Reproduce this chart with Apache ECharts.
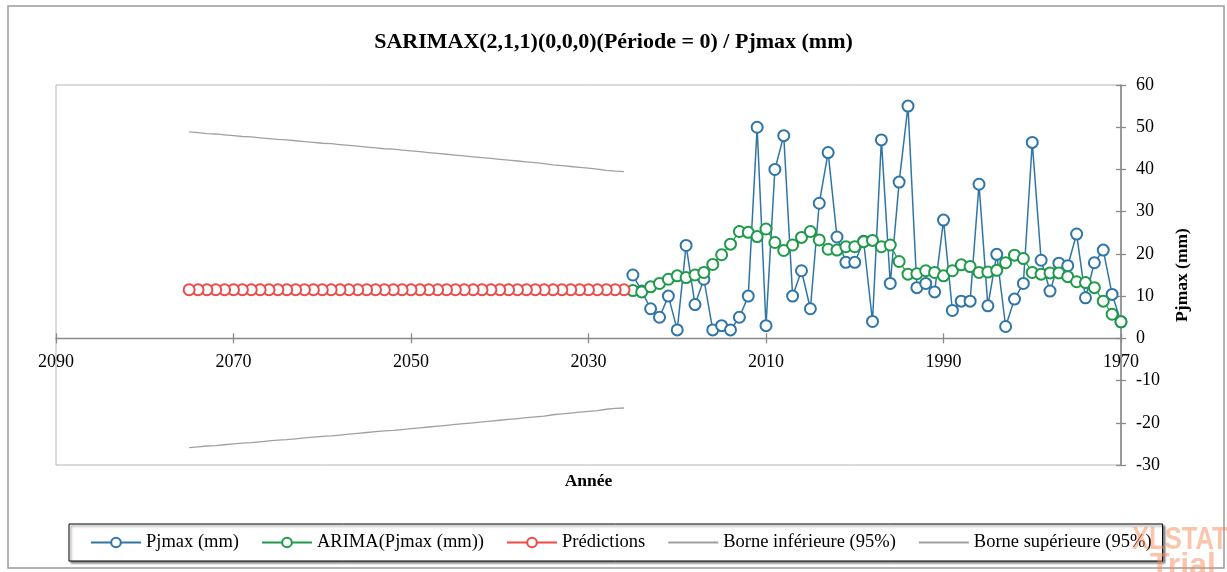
<!DOCTYPE html>
<html>
<head>
<meta charset="utf-8">
<script src="https://cdn.jsdelivr.net/npm/echarts@6/dist/echarts.min.js"></script>
<style>
html,body{margin:0;padding:0;background:#fff;}
#chart{width:1227px;height:572px;}
</style>
</head>
<body>
<div id="chart"></div>
<script>
// ---- Data ----
const titleText = 'SARIMAX(2,1,1)(0,0,0)(Période = 0) / Pjmax (mm)';
const seriesNames = ['Pjmax (mm)', 'ARIMA(Pjmax (mm))', 'Prédictions', 'Borne inférieure (95%)', 'Borne supérieure (95%)'];

// Observed years (descending 2025 -> 1970)
const obsYears = [2025,2024,2023,2022,2021,2020,2019,2018,2017,2016,2015,2014,2013,2012,2011,2010,2009,2008,2007,2006,
  2005,2004,2003,2002,2001,2000,1999,1998,1997,1996,1995,1994,1993,1992,1991,1990,1989,1988,1987,1986,
  1985,1984,1983,1982,1981,1980,1979,1978,1977,1976,1975,1974,1973,1972,1971,1970];

const pjmax = [15,11.2,7,5,10,2,22,8,14,2,3,2,5,10,50,3,40,48,10,16,
  7,32,44,24,18,18,23,4,47,13,37,55,12,13,11,28,6.6,8.8,8.8,36.5,
  7.7,19.9,2.8,9.3,13,46.4,18.5,11.2,17.8,17.2,24.7,9.6,17.9,20.9,10.4,3.9];

const arima = [11.3,11.0,12.2,13.0,14.0,14.8,14.4,15.0,15.6,17.5,19.8,22.3,25.3,25.1,24.1,25.9,22.7,20.8,22.1,23.9,
  25.3,23.3,21.1,20.9,21.7,21.7,22.9,23.2,21.7,22.1,18.2,15.2,15.3,16.0,15.6,14.8,16.0,17.4,17.0,15.6,
  15.7,16.1,17.9,19.7,18.9,15.6,15.2,15.5,15.5,14.6,13.4,13.2,12.0,8.8,5.7,3.9];

// Forecast years (2026 -> 2075)
const predYears = [2026,2027,2028,2029,2030,2031,2032,2033,2034,2035,2036,2037,2038,2039,2040,2041,2042,2043,2044,2045,
  2046,2047,2048,2049,2050,2051,2052,2053,2054,2055,2056,2057,2058,2059,2060,2061,2062,2063,2064,2065,
  2066,2067,2068,2069,2070,2071,2072,2073,2074,2075];

const predictions = [11.5,11.5,11.5,11.5,11.5,11.5,11.5,11.5,11.5,11.5,11.5,11.5,11.5,11.5,11.5,11.5,11.5,11.5,11.5,11.5,
  11.5,11.5,11.5,11.5,11.5,11.5,11.5,11.5,11.5,11.5,11.5,11.5,11.5,11.5,11.5,11.5,11.5,11.5,11.5,11.5,
  11.5,11.5,11.5,11.5,11.5,11.5,11.5,11.5,11.5,11.5];

const lowerBound = [-16.5,-16.6,-16.8,-17.1,-17.3,-17.5,-17.7,-17.9,-18.1,-18.4,-18.6,-18.8,-19.0,-19.2,-19.4,-19.6,-19.8,-20.0,-20.2,-20.4,
  -20.6,-20.8,-21.0,-21.2,-21.4,-21.6,-21.8,-21.9,-22.1,-22.3,-22.5,-22.7,-22.9,-23.1,-23.2,-23.4,-23.6,-23.8,-24.0,-24.1,
  -24.3,-24.5,-24.7,-24.8,-25.0,-25.2,-25.4,-25.5,-25.7,-25.9];

const upperBound = [39.5,39.6,39.8,40.1,40.3,40.5,40.7,40.9,41.1,41.4,41.6,41.8,42.0,42.2,42.4,42.6,42.8,43.0,43.2,43.4,
  43.6,43.8,44.0,44.2,44.4,44.6,44.8,44.9,45.1,45.3,45.5,45.7,45.9,46.1,46.2,46.4,46.6,46.8,47.0,47.1,
  47.3,47.5,47.7,47.8,48.0,48.2,48.4,48.5,48.7,48.9];

const xTicks = {min: 1970, max: 2090, interval: 20};
const yTicks = {min: -30, max: 60, interval: 10};

// ---- Build ----
const pairs = (xs, ys) => xs.map((x, i) => [x, ys[i]]);
const serif = 'Liberation Serif';
const axisGray = '#8a8a8a';
const plain = v => String(v);

const gridTop = 85, gridBottom = 107, chartH = 572;
const gridH = chartH - gridTop - gridBottom;
// x axis crosses the y axis at value 0: shift it up from the grid bottom by the height of the part below zero
const zeroShift = -gridH * (0 - yTicks.min) / (yTicks.max - yTicks.min);

const chart = echarts.init(document.getElementById('chart'), null, {renderer: 'canvas'});

const option = {
  animation: false,
  backgroundColor: '#fff',
  title: {
    text: titleText,
    left: 'center',
    top: 31,
    padding: 0,
    textStyle: {fontFamily: serif, fontSize: 22, fontWeight: 'bold', color: '#000'}
  },
  grid: {
    left: 56, right: 106, top: gridTop, bottom: gridBottom,
    containLabel: false, outerBoundsMode: 'none',
    show: true, borderColor: '#b4b4b4', borderWidth: 1, backgroundColor: 'transparent'
  },
  legend: {
    data: [
      {name: seriesNames[0]},
      {name: seriesNames[1]},
      {name: seriesNames[2]},
      {name: seriesNames[3], itemStyle: {opacity: 0}},
      {name: seriesNames[4], itemStyle: {opacity: 0}}
    ],
    left: 69, top: 524,
    padding: [9, 11, 9, 21],
    itemWidth: 50, itemHeight: 12, itemGap: 22,
    borderColor: '#000', borderWidth: 1,
    backgroundColor: '#fff',
    shadowColor: 'rgba(0,0,0,0.45)', shadowBlur: 2, shadowOffsetX: 2, shadowOffsetY: 2,
    textStyle: {fontFamily: serif, fontSize: 18.5, color: '#000'}
  },
  xAxis: [{
    type: 'value', inverse: true,
    min: xTicks.min, max: xTicks.max, interval: xTicks.interval,
    position: 'bottom', offset: zeroShift,
    name: 'Année', nameLocation: 'middle', nameGap: 134,
    nameTextStyle: {fontFamily: serif, fontSize: 17.5, fontWeight: 'bold', color: '#000'},
    axisLine: {show: true, onZero: false, lineStyle: {color: axisGray, width: 1.3}},
    axisTick: {show: true, inside: false, length: 5, lineStyle: {color: axisGray, width: 1.3}},
    axisLabel: {fontFamily: serif, fontSize: 18, color: '#000', margin: 15, formatter: plain},
    splitLine: {show: false}
  }, {
    type: 'value', inverse: true,
    min: xTicks.min, max: xTicks.max, interval: xTicks.interval,
    position: 'bottom', offset: zeroShift,
    axisLine: {show: false, onZero: false},
    axisTick: {show: true, inside: true, length: 5, lineStyle: {color: axisGray, width: 1.3}},
    axisLabel: {show: false},
    splitLine: {show: false}
  }],
  yAxis: [{
    type: 'value', position: 'right',
    min: yTicks.min, max: yTicks.max, interval: yTicks.interval,
    name: 'Pjmax (mm)', nameLocation: 'middle', nameGap: 52,
    nameTextStyle: {fontFamily: serif, fontSize: 17.5, fontWeight: 'bold', color: '#000'},
    axisLine: {show: true, onZero: false, lineStyle: {color: axisGray, width: 1.6}},
    axisTick: {show: true, inside: false, length: 5, lineStyle: {color: axisGray, width: 1.3}},
    axisLabel: {fontFamily: serif, fontSize: 18, color: '#000', margin: 15, formatter: plain},
    splitLine: {show: false}
  }, {
    type: 'value', position: 'right',
    min: yTicks.min, max: yTicks.max, interval: yTicks.interval,
    axisLine: {show: false, onZero: false},
    axisTick: {show: true, inside: true, length: 5, lineStyle: {color: axisGray, width: 1.3}},
    axisLabel: {show: false},
    splitLine: {show: false}
  }],
  series: [{
    name: seriesNames[0], type: 'line',
    data: pairs(obsYears, pjmax),
    symbol: 'emptyCircle', symbolSize: 11,
    lineStyle: {color: '#2f76a6', width: 1.5},
    itemStyle: {color: '#2f76a6', borderWidth: 1.2},
    z: 2
  }, {
    name: seriesNames[1], type: 'line',
    data: pairs(obsYears, arima),
    symbol: 'emptyCircle', symbolSize: 11,
    lineStyle: {color: '#1f9a4a', width: 1.2},
    itemStyle: {color: '#1f9a4a', borderWidth: 1.2},
    z: 3
  }, {
    name: seriesNames[2], type: 'line',
    data: pairs(predYears, predictions),
    symbol: 'emptyCircle', symbolSize: 11,
    lineStyle: {color: '#ee4a45', width: 1.2},
    itemStyle: {color: '#ee4a45', borderWidth: 1.2},
    z: 3
  }, {
    name: seriesNames[3], type: 'line',
    data: pairs(predYears, lowerBound),
    symbol: 'none',
    lineStyle: {color: '#a0a0a0', width: 1.3},
    itemStyle: {color: '#a0a0a0'},
    z: 2
  }, {
    name: seriesNames[4], type: 'line',
    data: pairs(predYears, upperBound),
    symbol: 'none',
    lineStyle: {color: '#a0a0a0', width: 1.3},
    itemStyle: {color: '#a0a0a0'},
    z: 2
  }],
  graphic: [{
    type: 'rect', z: -10, silent: true,
    shape: {x: 8, y: 6, width: 1216, height: 562},
    style: {fill: 'none', stroke: '#9a9a9a', lineWidth: 1.5}
  }, {
    type: 'text', z: 100, silent: true, x: 1132, y: 524, scaleX: 0.8,
    style: {text: 'XLSTAT', fill: 'rgba(248,140,90,0.5)', font: 'bold 32px "Liberation Sans", sans-serif'}
  }, {
    type: 'text', z: 100, silent: true, x: 1150, y: 550,
    style: {text: 'Trial', fill: 'rgba(248,140,90,0.5)', font: 'bold 32px "Liberation Sans", sans-serif'}
  }]
};
chart.setOption(option);
</script>
</body>
</html>
